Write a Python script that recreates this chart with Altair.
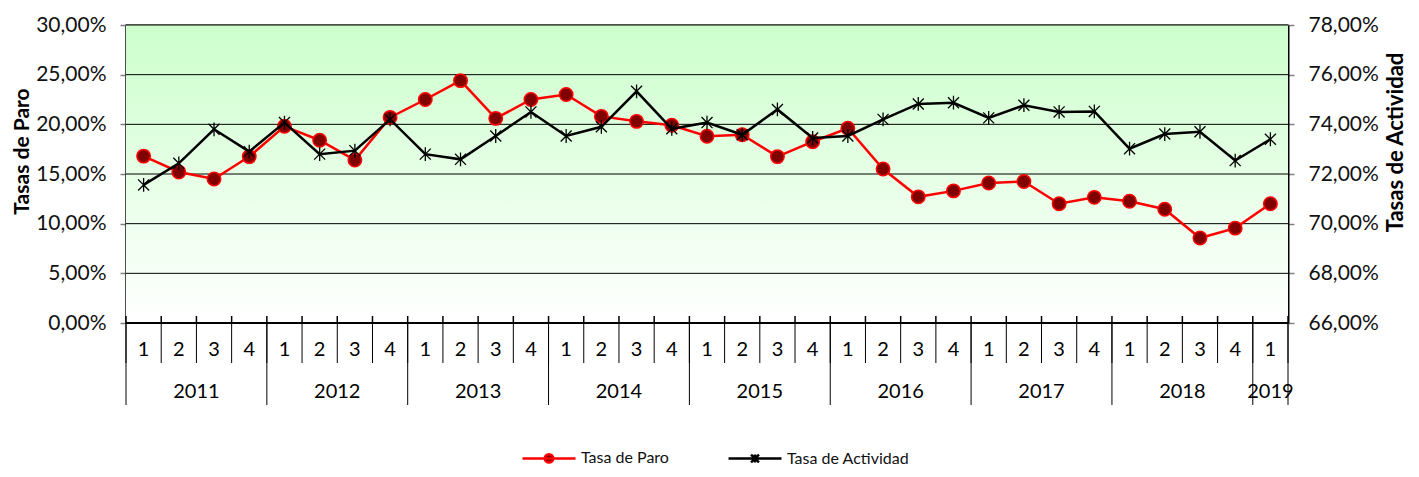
import altair as alt
import pandas as pd

# ---- data ----
quarter_labels = ["1", "2", "3", "4"] * 8 + ["1"]
year_labels = ["2011", "2012", "2013", "2014", "2015", "2016", "2017", "2018", "2019"]
year_lengths = [4, 4, 4, 4, 4, 4, 4, 4, 1]

tasa_paro = [16.8, 15.2, 14.5, 16.75, 19.8, 18.4, 16.4, 20.7,
             22.5, 24.4, 20.6, 22.5, 23.0, 20.8, 20.3, 19.9,
             18.8, 18.95, 16.75, 18.25, 19.6, 15.5, 12.7, 13.3,
             14.1, 14.25, 12.0, 12.65, 12.25, 11.45, 8.55, 9.55, 12.0]
tasa_actividad = [71.56, 72.43, 73.8, 72.9, 74.07, 72.8, 72.94, 74.2,
                  72.8, 72.59, 73.53, 74.5, 73.53, 73.9, 75.33, 73.82,
                  74.07, 73.58, 74.6, 73.45, 73.53, 74.2, 74.82, 74.87,
                  74.26, 74.77, 74.5, 74.52, 73.02, 73.61, 73.7, 72.54, 73.4]

series_names = ["Tasa de Paro", "Tasa de Actividad"]
left_ticks = [0, 0.05, 0.10, 0.15, 0.20, 0.25, 0.30]
right_ticks = [0.66, 0.68, 0.70, 0.72, 0.74, 0.76, 0.78]

# ---- tables ----
n = len(tasa_paro)
df = pd.DataFrame({
    "pos": [i + 0.5 for i in range(n)],
    "q": quarter_labels,
    "paro": [v / 100 for v in tasa_paro],
    "act": [v / 100 for v in tasa_actividad],
})
starts = []
s = 0
for L in year_lengths:
    starts.append(s)
    s += L
years_df = pd.DataFrame({
    "year": year_labels,
    "center": [st + L / 2 for st, L in zip(starts, year_lengths)],
})
bounds_df = pd.DataFrame({"b": list(range(n + 1))})
ybounds_df = pd.DataFrame({"b": starts + [n]})
grid_df = pd.DataFrame({"v": left_ticks})
one = pd.DataFrame({"k": [0]})
legend_df = pd.DataFrame({"serie": series_names})

W, H = 1162, 298
FONT = "Lato"

xs = alt.Scale(domain=[0, n], nice=False, zero=False)
X = alt.X("pos:Q", scale=xs, axis=None)

fmt = "replace(format(datum.value, '.2%'), '.', ',')"

bg = alt.Chart(one).mark_rect(
    color=alt.LinearGradient(
        gradient="linear",
        stops=[alt.GradientStop(color="#ccffcc", offset=0),
               alt.GradientStop(color="#ffffff", offset=1)],
        x1=0, x2=0, y1=0, y2=1,
    )
).encode(x=alt.value(0), x2=alt.value(W), y=alt.value(0), y2=alt.value(H))

ysL = alt.Scale(domain=[0, 0.30], nice=False, zero=True)
ysR = alt.Scale(domain=[0.66, 0.78], nice=False, zero=False)

grid = alt.Chart(grid_df).mark_rule(color="#000000", strokeWidth=1).encode(
    y=alt.Y("v:Q", scale=ysL, axis=None), x=alt.value(0), x2=alt.value(W))

axisL = alt.Axis(
    orient="left", values=left_ticks, labelExpr=fmt, grid=False,
    domainColor="#000000", domainWidth=2,
    tickColor="#808080", tickSize=6, tickWidth=1.5, labelPadding=14,
    labelFont=FONT, labelFontSize=21, labelColor="#111111",
    title="Tasas de Paro", titleFont=FONT, titleFontSize=21, titleFontWeight="bold",
    titleAngle=-90, titleX=-104, titleY=126, titleAlign="center", titleBaseline="middle",
    titleColor="#000000",
)
axisR = alt.Axis(
    orient="right", values=right_ticks, labelExpr=fmt, grid=False,
    domainColor="#000000", domainWidth=2,
    tickColor="#808080", tickSize=6, tickWidth=1.5, labelPadding=14,
    labelFont=FONT, labelFontSize=21, labelColor="#111111",
    title="Tasas de Actividad", titleFont=FONT, titleFontSize=22, titleFontWeight="bold",
    titleAngle=-90, titleX=107, titleY=117, titleAlign="center", titleBaseline="middle",
    titleColor="#000000",
)

base = alt.Chart(df)
paro_layer = base.mark_line(
    color="#ff0000", strokeWidth=2.5,
    point=alt.OverlayMarkDef(shape="circle", filled=True, fill="#800000", stroke="#ff0000",
                             strokeWidth=1.5, size=180, opacity=1),
).encode(x=X, y=alt.Y("paro:Q", scale=ysL, axis=axisL))

star = "M0,-1V1M-0.8,-0.8L0.8,0.8M-0.8,0.8L0.8,-0.8"
act_layer = base.mark_line(
    color="#000000", strokeWidth=2.5,
    point=alt.OverlayMarkDef(shape=star, filled=False, stroke="#000000",
                             strokeWidth=1.3, size=190, opacity=1),
).encode(x=X, y=alt.Y("act:Q", scale=ysR, axis=axisR))

# x axis decorations
bottom_line = alt.Chart(one).mark_rule(color="#000000", strokeWidth=2).encode(
    x=alt.value(0), x2=alt.value(W), y=alt.value(H))
inner_ticks = alt.Chart(bounds_df).mark_rule(color="#000000", strokeWidth=1.5).encode(
    x=alt.X("b:Q", scale=xs, axis=None), y=alt.value(H - 7), y2=alt.value(H))
q_div = alt.Chart(bounds_df).mark_rule(color="#000000", strokeWidth=1).encode(
    x=alt.X("b:Q", scale=xs, axis=None), y=alt.value(H), y2=alt.value(H + 40))
y_div = alt.Chart(ybounds_df).mark_rule(color="#000000", strokeWidth=1).encode(
    x=alt.X("b:Q", scale=xs, axis=None), y=alt.value(H), y2=alt.value(H + 82))
q_text = base.mark_text(font=FONT, fontSize=20, color="#000000", baseline="middle",
                        align="center").encode(x=X, y=alt.value(H + 27), text="q:N")
y_text = alt.Chart(years_df).mark_text(font=FONT, fontSize=20, color="#000000",
                                       baseline="middle", align="center").encode(
    x=alt.X("center:Q", scale=xs, axis=None), y=alt.value(H + 69), text="year:N")

# legend
p_paro = "M-1,0H1M-0.16,0A0.16,0.16,0,1,1,0.16,0A0.16,0.16,0,1,1,-0.16,0Z"
p_act = "M-1,0H1M0,-0.15V0.15M-0.15,-0.15L0.15,0.15M-0.15,0.15L0.15,-0.15"
leg = alt.Legend(title=None)
legend_layer = alt.Chart(legend_df).mark_point(strokeWidth=2.5, opacity=1, size=2809).encode(
    x=alt.value(-3000), y=alt.value(-3000),
    shape=alt.Shape("serie:N", scale=alt.Scale(domain=series_names, range=[p_paro, p_act]), legend=leg),
    fill=alt.Fill("serie:N", scale=alt.Scale(domain=series_names, range=["#800000", "#000000"]), legend=leg),
    stroke=alt.Stroke("serie:N", scale=alt.Scale(domain=series_names, range=["#ff0000", "#000000"]), legend=leg),
)

chart = alt.layer(
    bg, grid, bottom_line, inner_ticks, q_div, y_div, q_text, y_text,
    paro_layer, act_layer, legend_layer,
).resolve_scale(y="independent").properties(
    width=W, height=H,
    autosize=alt.AutoSizeParams(type="none"),
    padding={"left": 118, "top": 17, "right": 123, "bottom": 146},
).configure_view(stroke="#9a9a9a", strokeWidth=2).configure_legend(
    orient="none", legendX=395, legendY=405, direction="horizontal",
    symbolSize=2809, symbolStrokeWidth=2.5, labelFont=FONT, labelFontSize=16,
    labelColor="#111111", labelOffset=4, columnPadding=54, padding=0,
    symbolOpacity=1,
)

chart.save("out.html", embed_options={"renderer": "svg", "actions": False})
